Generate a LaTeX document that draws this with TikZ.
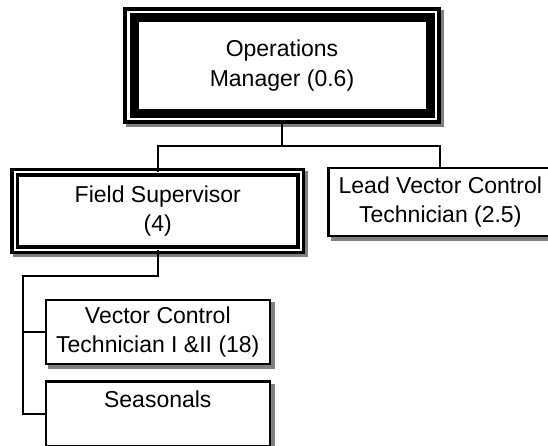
\documentclass[tikz,border=0pt]{standalone}
\usepackage{fontspec}
\setmainfont{Liberation Sans}
\usetikzlibrary{positioning}
\definecolor{shadowgray}{RGB}{128,128,128}
\tikzset{
    shadowed/.style 2 args={
           preaction={draw=shadowgray, fill=shadowgray, line width=#1,
                      transform canvas={shift={(#2,-#2)}}},
           },
}
\tikzset{
    box/.style={
           rectangle,
           draw=black, line width=2.5pt,
           fill=white,
           inner sep=0pt, outer sep=0pt,
           align=center,
           font=\fontsize{23}{29.5}\selectfont,
           },
    unitbox/.style={box, shadowed={2.5pt}{3.5pt}},
    headbox/.style={box, line width=4pt, shadowed={4pt}{3pt}},
    supbox/.style={box, double=white, line width=3.5pt, double distance=2pt, shadowed={9pt}{3pt}},
    headframe/.style={draw=black, line width=9pt},
    link/.style={draw=black, line width=2pt},
}
\begin{document}
\begin{tikzpicture}[x=1pt,y=-1pt]
\useasboundingbox (0,0) rectangle (548,446);
% boxes
\node[headbox,minimum width=314pt,minimum height=113.6pt](ops) at (282,65.5){Operations\\Manager (0.6)};
\draw[headframe] ([shift={(9,9)}]ops.north west) rectangle ([shift={(-9,-9)}]ops.south east);
\node[supbox,minimum width=286pt,minimum height=77.5pt](field) at (157.8,211){Field Supervisor\\(4)};
\node[unitbox,minimum width=223.4pt,minimum height=67.5pt](lead) at (440.3,202){Lead Vector Control\\Technician (2.5)};
\node[unitbox,minimum width=224pt,minimum height=64.4pt](vct) at (157.8,332){Vector Control\\Technician I \&II (18)};
\node[unitbox,minimum width=224pt,minimum height=64.4pt](seas) at (157.8,413.9){Seasonals\\\mbox{}};
% connectors
\coordinate (bus1) at (0,145.7);
\coordinate (bus2) at (23.2,276);
\draw[link] (ops.south) -- (ops.south |- bus1);
\draw[link] (field.north) |- (bus1 -| lead.north) -- (lead.north);
\draw[link] (field.south) |- (bus2) |- (vct.west);
\draw[link] (bus2) |- (seas.west);
\end{tikzpicture}
\end{document}
